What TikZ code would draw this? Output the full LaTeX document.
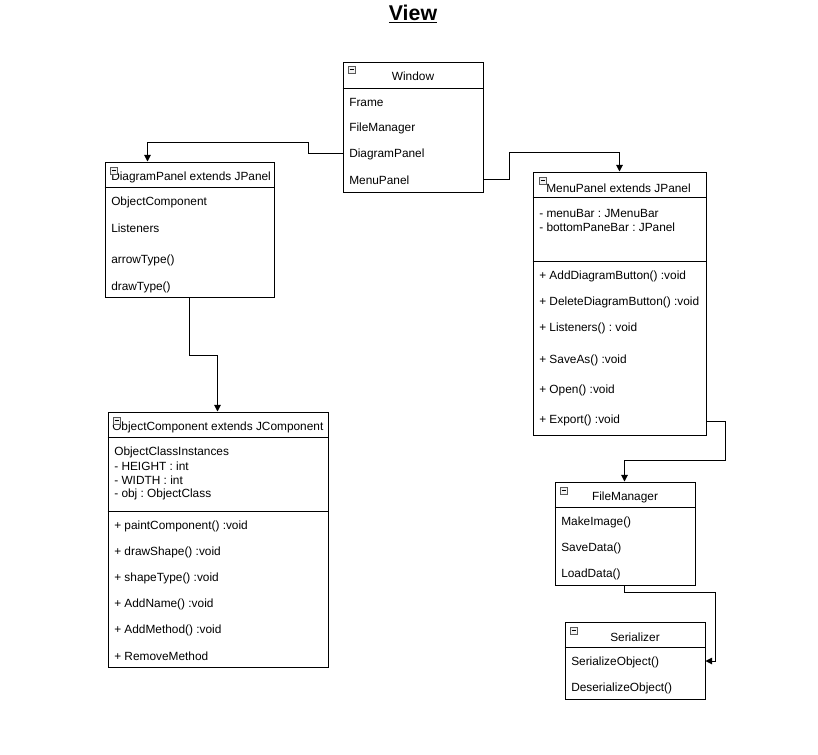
\documentclass[tikz,border=0pt]{standalone}
\usepackage{fontspec}
\setmainfont{Liberation Sans}
\frenchspacing
\usetikzlibrary{fit,calc,arrows.meta}
\newcommand\myicon[1]{\draw[icon] (#1) rectangle ++(7,7); \draw[line width=0.5pt] ($(#1)+(1.5,3.5)$) -- ++(4,0);}
\begin{document}
\begin{tikzpicture}[x=0.75pt,y=-0.75pt,
 box/.style={draw,line width=0.75pt,inner sep=0pt},
 txt/.style={anchor=west,inner sep=0pt,yshift=-1.2pt,font=\fontsize{8.9}{10}\selectfont},
 hdr/.style={inner sep=0pt,yshift=-1.2pt,font=\fontsize{8.9}{10}\selectfont},
 sep/.style={line width=0.75pt},
 arr/.style={line width=0.75pt,-{Triangle[length=5pt,width=5pt]}},
 icon/.style={draw=gray!70!black,line width=0.5pt,fill=gray!10}]
\fill[white] (0,0) rectangle (818,754);
\useasboundingbox (0,0) rectangle (818,754);
\node[font=\bfseries\fontsize{16}{19}\selectfont,inner sep=0pt] (title) at (413,14) {\underline{View}};
% Window
\node[box,fit={(343,62)(483,192)}] (win) {};
\draw[sep] ($(win.north west)+(0,27)$) -- ($(win.north east)+(0,27)$);
\myicon{348,66}
\node[hdr] (winH) at (413,75) {Window};
\node[txt] (wFr) at (349,101) {Frame};
\node[txt] (wFM) at (349,127) {FileManager};
\node[txt] (wDP) at (349,153) {DiagramPanel};
\node[txt] (wMP) at (349,179) {MenuPanel};
% DiagramPanel
\node[box,fit={(105,162)(274,297)}] (dp) {};
\draw[sep] ($(dp.north west)+(0,26)$) -- ($(dp.north east)+(0,26)$);
\node[txt] (dpH) at (111,176) {DiagramPanel extends JPanel};
\myicon{110,167}
\node[txt] (dOC) at (111,201) {ObjectComponent};
\node[txt] (dLi) at (111,227) {Listeners};
\node[txt] (dAT) at (111,259) {arrowType()};
\node[txt] (dDT) at (111,286) {drawType()};
% ObjectComponent
\node[box,fit={(108,412)(328,667)}] (oc) {};
\draw[sep] ($(oc.north west)+(0,26)$) -- ($(oc.north east)+(0,26)$);
\draw[sep] ($(oc.north west)+(0,100)$) -- ($(oc.north east)+(0,100)$);
\node[txt] (ocH) at (112,426) {ObjectComponent extends JComponent};
\myicon{113,417}
\node[txt] (oA1) at (114,451) {ObjectClassInstances};
\node[txt] (oA2) at (114,465) {- HEIGHT : int};
\node[txt] (oA3) at (114,479) {- WIDTH : int};
\node[txt] (oA4) at (114,493) {- obj : ObjectClass};
\node[txt] (oM1) at (114,525) {+ paintComponent() :void};
\node[txt] (oM2) at (114,551) {+ drawShape() :void};
\node[txt] (oM3) at (114,577) {+ shapeType() :void};
\node[txt] (oM4) at (114,603) {+ AddName() :void};
\node[txt] (oM5) at (114,629) {+ AddMethod() :void};
\node[txt] (oM6) at (114,655) {+ RemoveMethod};
% MenuPanel
\node[box,fit={(533,172)(706,435)}] (mp) {};
\draw[sep] ($(mp.north west)+(0,26)$) -- ($(mp.north east)+(0,26)$);
\draw[sep] ($(mp.north west)+(0,90)$) -- ($(mp.north east)+(0,90)$);
\myicon{539,177}
\node[txt] (mpH) at (546,187) {MenuPanel extends JPanel};
\node[txt] (mA1) at (539,212) {- menuBar : JMenuBar};
\node[txt] (mA2) at (539,226) {- bottomPaneBar : JPanel};
\node[txt] (mM1) at (539,275) {+ AddDiagramButton() :void};
\node[txt] (mM2) at (539,301) {+ DeleteDiagramButton() :void};
\node[txt] (mM3) at (539,327) {+ Listeners() : void};
\node[txt] (mM4) at (539,359) {+ SaveAs() :void};
\node[txt] (mM5) at (539,389) {+ Open() :void};
\node[txt] (mEx) at (539,419) {+ Export() :void};
% FileManager
\node[box,fit={(555,482)(695,585)}] (fm) {};
\draw[sep] ($(fm.north west)+(0,26)$) -- ($(fm.north east)+(0,26)$);
\myicon{560,487}
\node[hdr] (fmH) at (625,496) {FileManager};
\node[txt] (fR1) at (561,521) {MakeImage()};
\node[txt] (fR2) at (561,547) {SaveData()};
\node[txt] (fR3) at (561,573) {LoadData()};
% Serializer
\node[box,fit={(565,622)(705,699)}] (ser) {};
\draw[sep] ($(ser.north west)+(0,26)$) -- ($(ser.north east)+(0,26)$);
\myicon{570,627}
\node[hdr] (serH) at (635,636) {Serializer};
\node[txt] (sSO) at (571,661) {SerializeObject()};
\node[txt] (sDO) at (571,687) {DeserializeObject()};
% connectors
\draw[arr] (win.west |- 0,153) -- ++(-34,0) -- ++(0,-11) -| ($(dp.north west)+(43,0)$);
\draw[arr] (win.east |- 0,179) -- ++(26,0) -- ++(0,-27) -| ($(mp.north west)+(87,0)$);
\draw[arr] ($(dp.south west)+(85,0)$) -- ++(0,58) -| ($(oc.north west)+(110,0)$);
\draw[arr] ($(mp.south east)+(0,-14)$) -- ++(19,0) -- ++(0,39) -| ($(fm.north west)+(70,0)$);
\draw[arr] ($(fm.south west)+(70,0)$) -- ++(0,7) -| ($(ser.east |- 0,661)+(10,0)$) -- (ser.east |- 0,661);
\end{tikzpicture}
\end{document}
